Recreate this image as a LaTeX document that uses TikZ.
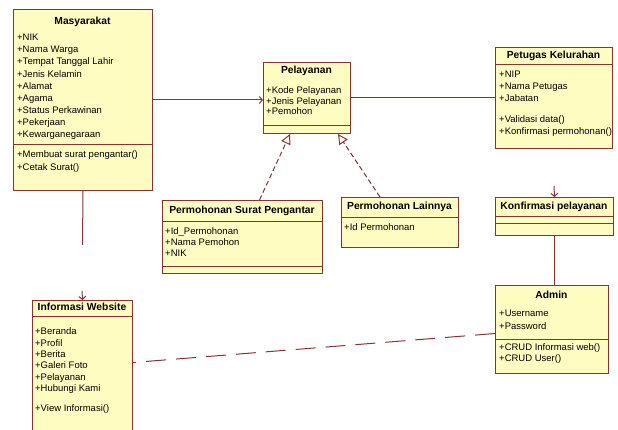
\documentclass[tikz,border=0pt]{standalone}
\usepackage{fontspec}
\setmainfont{Liberation Sans}
\usetikzlibrary{arrows.meta}
\definecolor{umlfill}{HTML}{FFFCC2}
\definecolor{umlline}{HTML}{843434}
\tikzset{
  classbox/.style={draw=umlline, fill=umlfill, line width=1pt, inner sep=0pt, anchor=north west},
  sepline/.style={draw=umlline, line width=1pt},
  title/.style={font=\bfseries\fontsize{10.3}{12}\selectfont, inner sep=0pt, text height=7.5pt, text depth=2pt},
  member/.style={font=\fontsize{9.5}{12}\selectfont, anchor=west, inner sep=0pt, text height=7.5pt, text depth=2pt},
  assoc/.style={draw=umlline, line width=1pt},
  navig/.style={assoc, -{Straight Barb[length=3pt,width=7pt]}},
  realize/.style={assoc, dash pattern=on 5pt off 3pt, -{Triangle[open,length=10pt,width=10pt]}},
  linkdash/.style={assoc, dash pattern=on 20pt off 10pt},
}
\begin{document}
\begin{tikzpicture}[x=1pt,y=-1pt]
\useasboundingbox (0,0) rectangle (618,430);

% Masyarakat
\node[classbox, minimum width=139pt, minimum height=181pt] (mas) at (13,9) {};
\draw[sepline] (13,145) -- (152,145);
\node[title] (masT) at (82.5,22) {Masyarakat};
\foreach \t [count=\i] in {+NIK,+Nama Warga,+Tempat Tanggal Lahir,+Jenis Kelamin,+Alamat,+Agama,+Status Perkawinan,+Pekerjaan,+Kewarganegaraan}
  \node[member] (masA\i) at (17,{38+12.1*(\i-1)}) {\t};
\foreach \t [count=\i] in {+Membuat surat pengantar(),+Cetak Surat()}
  \node[member] (masM\i) at (17,{155+12.5*(\i-1)}) {\t};

% Pelayanan
\node[classbox, minimum width=87pt, minimum height=71pt] (pel) at (263,62) {};
\draw[sepline] (263,126) -- (350,126);
\node[title] (pelT) at (306.5,71) {Pelayanan};
\foreach \t [count=\i] in {+Kode Pelayanan,+Jenis Pelayanan,+Pemohon}
  \node[member] (pelA\i) at (266,{91+10.5*(\i-1)}) {\t};

% Petugas Kelurahan
\node[classbox, minimum width=117pt, minimum height=101pt] (pet) at (495,47) {};
\draw[sepline] (495,65) -- (612,65);
\node[title] (petT) at (553.5,56) {Petugas Kelurahan};
\foreach \t [count=\i] in {+NIP,+Nama Petugas,+Jabatan}
  \node[member] (petA\i) at (499,{75+12*(\i-1)}) {\t};
\foreach \t [count=\i] in {+Validasi data(),+Konfirmasi permohonan()}
  \node[member] (petM\i) at (499,{120+12*(\i-1)}) {\t};

% Permohonan Surat Pengantar
\node[classbox, minimum width=160pt, minimum height=73pt] (psp) at (162,200) {};
\draw[sepline] (162,222) -- (322,222);
\draw[sepline] (162,267) -- (322,267);
\node[title] (pspT) at (242,211) {Permohonan Surat Pengantar};
\foreach \t [count=\i] in {+Id\_Permohonan,+Nama Pemohon,+NIK}
  \node[member] (pspA\i) at (165,{232+11*(\i-1)}) {\t};

% Permohonan Lainnya
\node[classbox, minimum width=117pt, minimum height=50pt] (pla) at (341,197) {};
\draw[sepline] (341,218) -- (458,218);
\node[title] (plaT) at (399.5,207) {Permohonan Lainnya};
\node[member] (plaA1) at (344,228) {+Id Permohonan};

% Konfirmasi pelayanan
\node[classbox, minimum width=118pt, minimum height=38pt] (kf) at (495,197) {};
\draw[sepline] (495,217) -- (613,217);
\draw[sepline] (495,224) -- (613,224);
\node[title] (kfT) at (554,207) {Konfirmasi pelayanan};

% Admin
\node[classbox, minimum width=113pt, minimum height=88pt] (adm) at (495,285) {};
\draw[sepline] (495,339) -- (608,339);
\node[title] (admT) at (551.5,296) {Admin};
\foreach \t [count=\i] in {+Username,+Password}
  \node[member] (admA\i) at (499,{314+13*(\i-1)}) {\t};
\foreach \t [count=\i] in {+CRUD Informasi web(),+CRUD User()}
  \node[member] (admM\i) at (499,{348+11*(\i-1)}) {\t};

% Informasi Website
\node[classbox, minimum width=100pt, minimum height=130pt] (inf) at (32,300) {};
\draw[sepline] (32,316) -- (132,316);
\node[title] (infT) at (82,308) {Informasi Website};
\foreach \t [count=\i] in {+Beranda,+Profil,+Berita,+Galeri Foto,+Pelayanan,+Hubungi Kami}
  \node[member] (infA\i) at (35,{332+11.4*(\i-1)}) {\t};
\node[member] (infM1) at (35,409) {+View Informasi()};

% Associations
\draw[navig] (mas.east) -- (mas.east -| pel.west);
\draw[assoc] (pel.east) -- (pel.east -| pet.west);
\coordinate (masEnd) at (82.5,245);
\draw[assoc] (mas.south) -- (masEnd);
\coordinate (infTip) at (82,291);
\draw[navig] (infTip) -- (inf.north);
\coordinate (kfTip) at (554,186);
\draw[navig] (kfTip) -- (kf.north);
\draw[assoc] (kf.south) -- (kf.south |- adm.north);
\draw[linkdash] ([yshift=-4pt]adm.west) -- ([yshift=3pt]inf.east);

% Generalizations
\draw[realize] ([xshift=17pt]psp.north) -- ([xshift=-17pt]pel.south);
\draw[realize] ([xshift=-20pt]pla.north) -- ([xshift=31pt]pel.south);
\end{tikzpicture}
\end{document}
